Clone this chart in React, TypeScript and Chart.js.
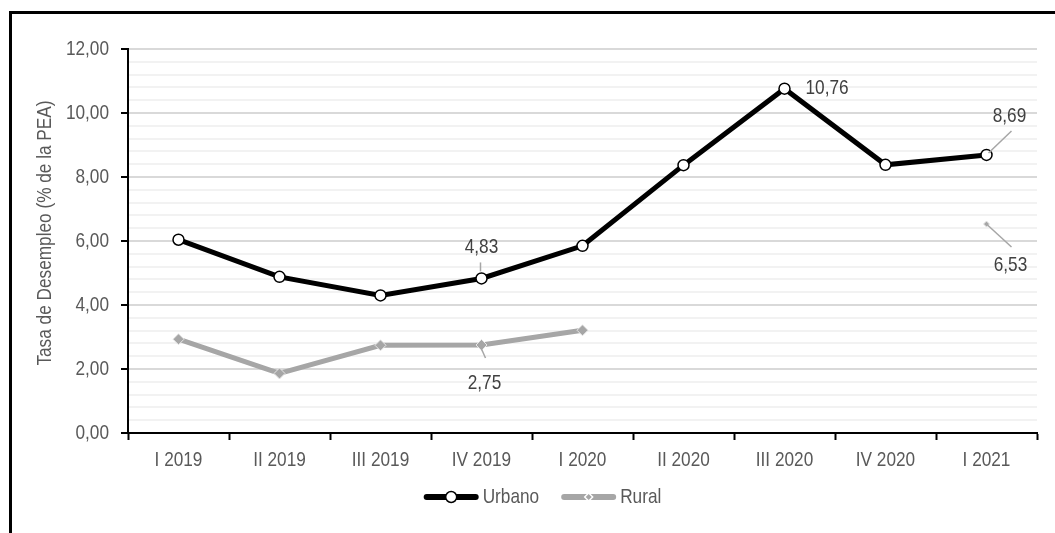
import { useEffect, useRef } from 'react';
import { Chart, registerables } from 'chart.js';

Chart.register(...registerables);

const FONT = '"Liberation Sans", Arial, sans-serif';
const FONT_SIZE = 21;
// Horizontal squeeze that turns the sans face into a narrow one.
const NARROW = 0.82;
const TEXT_COLOR = '#595959';
const LABEL_COLOR = '#404040';

// Quarterly unemployment rate (% of the economically active population)
const quarters = ['I 2019', 'II 2019', 'III 2019', 'IV 2019', 'I 2020', 'II 2020', 'III 2020', 'IV 2020', 'I 2021'];
const urbano = [6.04, 4.88, 4.3, 4.83, 5.85, 8.37, 10.76, 8.38, 8.69];
const rural: (number | null)[] = [2.93, 1.86, 2.74, 2.75, 3.21, null, null, null, 6.53];

const Y_MIN = 0;
const Y_MAX = 12;
const Y_MAJOR = 2;
const Y_MINOR = 0.4;

const fmt = (v: number) => v.toFixed(2).replace('.', ',');
const isMajor = (v: number) => Math.abs(v / Y_MAJOR - Math.round(v / Y_MAJOR)) < 1e-6;

// Value callouts: which point gets a label, where the text sits relative to it,
// and an optional leader line (x1, y1, x2, y2 offsets from the point).
type Callout = {
  dataset: number;
  index: number;
  dx: number;
  dy: number;
  align: CanvasTextAlign;
  leader?: [number, number, number, number];
};
const callouts: Callout[] = [
  { dataset: 0, index: 3, dx: 0, dy: -31, align: 'center', leader: [-1, -7, -1, -16] },
  { dataset: 1, index: 3, dx: 3, dy: 38, align: 'center', leader: [0, 4, 4, 13] },
  { dataset: 0, index: 6, dx: 21, dy: 0, align: 'left' },
  { dataset: 0, index: 8, dx: 23, dy: -39, align: 'center', leader: [2, -2, 25, -24] },
  { dataset: 1, index: 8, dx: 24, dy: 41, align: 'center', leader: [1, 1, 25, 23] },
];

const calloutPlugin = {
  id: 'valueCallouts',
  afterDatasetsDraw(chart: any) {
    const { ctx } = chart;
    ctx.save();
    ctx.font = `${FONT_SIZE}px ${FONT}`;
    ctx.fillStyle = LABEL_COLOR;
    ctx.textBaseline = 'middle';
    for (const c of callouts) {
      const value = chart.data.datasets[c.dataset].data[c.index];
      if (value == null) continue;
      const pt = chart.getDatasetMeta(c.dataset).data[c.index];
      if (c.leader) {
        ctx.strokeStyle = '#a6a6a6';
        ctx.lineWidth = 1.5;
        ctx.beginPath();
        ctx.moveTo(pt.x + c.leader[0], pt.y + c.leader[1]);
        ctx.lineTo(pt.x + c.leader[2], pt.y + c.leader[3]);
        ctx.stroke();
      }
      ctx.textAlign = c.align;
      ctx.fillText(fmt(value), pt.x + c.dx, pt.y + c.dy);
    }
    ctx.restore();
  },
};

// Y-axis title, drawn rotated beside the tick labels.
const axisTitlePlugin = {
  id: 'axisTitle',
  afterDraw(chart: any) {
    const { ctx, chartArea } = chart;
    ctx.save();
    ctx.font = `${FONT_SIZE}px ${FONT}`;
    ctx.fillStyle = TEXT_COLOR;
    ctx.textAlign = 'center';
    ctx.textBaseline = 'middle';
    ctx.translate(45, (chartArea.top + chartArea.bottom) / 2 - 8);
    ctx.rotate(-Math.PI / 2);
    ctx.fillText('Tasa de Desempleo (% de la PEA)', 0, 0);
    ctx.restore();
  },
};

// Legend with a line sample and its marker in the middle.
const lineLegendPlugin = {
  id: 'lineLegend',
  afterDraw(chart: any) {
    const { ctx, chartArea } = chart;
    const y = chartArea.bottom + 64;
    const sample = 55;
    const gap = 4;
    const between = 22;
    ctx.save();
    ctx.font = `${FONT_SIZE}px ${FONT}`;
    const items = chart.data.datasets.map((ds: any) => ({ ds, w: ctx.measureText(ds.label).width }));
    const total =
      items.reduce((s: number, it: any) => s + sample + gap + it.w, 0) + between * (items.length - 1);
    let x = (chartArea.left + chartArea.right) / 2 - 40 - total / 2;
    for (const { ds, w } of items) {
      ctx.strokeStyle = ds.borderColor;
      ctx.lineWidth = ds.borderWidth + 1;
      ctx.lineCap = 'round';
      ctx.beginPath();
      ctx.moveTo(x + 3, y);
      ctx.lineTo(x + sample - 3, y);
      ctx.stroke();
      const cx = x + sample / 2;
      if (ds.pointStyle === 'circle') {
        ctx.beginPath();
        ctx.arc(cx, y, 5.5, 0, Math.PI * 2);
        ctx.fillStyle = '#ffffff';
        ctx.fill();
        ctx.lineWidth = 1.5;
        ctx.strokeStyle = '#000000';
        ctx.stroke();
      } else {
        const r = 5;
        ctx.beginPath();
        ctx.moveTo(cx, y - r);
        ctx.lineTo(cx + r, y);
        ctx.lineTo(cx, y + r);
        ctx.lineTo(cx - r, y);
        ctx.closePath();
        ctx.fillStyle = '#ffffff';
        ctx.fill();
        const r2 = 3;
        ctx.beginPath();
        ctx.moveTo(cx, y - r2);
        ctx.lineTo(cx + r2, y);
        ctx.lineTo(cx, y + r2);
        ctx.lineTo(cx - r2, y);
        ctx.closePath();
        ctx.fillStyle = ds.borderColor;
        ctx.fill();
      }
      ctx.fillStyle = TEXT_COLOR;
      ctx.textAlign = 'left';
      ctx.textBaseline = 'middle';
      ctx.fillText(ds.label, x + sample + gap, y);
      x += sample + gap + w + between;
    }
    ctx.restore();
  },
};

// Draw and measure all text on this context with a horizontal squeeze.
function narrowText(ctx: CanvasRenderingContext2D) {
  const fill = ctx.fillText.bind(ctx);
  const measure = ctx.measureText.bind(ctx);
  (ctx as any).fillText = (text: string, x: number, y: number) => {
    ctx.save();
    ctx.translate(x, y);
    ctx.scale(NARROW, 1);
    fill(text, 0, 0);
    ctx.restore();
  };
  (ctx as any).measureText = (text: string) => {
    const m = measure(text);
    return {
      width: m.width * NARROW,
      actualBoundingBoxAscent: m.actualBoundingBoxAscent,
      actualBoundingBoxDescent: m.actualBoundingBoxDescent,
      actualBoundingBoxLeft: m.actualBoundingBoxLeft * NARROW,
      actualBoundingBoxRight: m.actualBoundingBoxRight * NARROW,
      fontBoundingBoxAscent: m.fontBoundingBoxAscent,
      fontBoundingBoxDescent: m.fontBoundingBoxDescent,
    };
  };
}

export default function App() {
  const canvasRef = useRef<HTMLCanvasElement | null>(null);

  useEffect(() => {
    const canvas = canvasRef.current;
    if (!canvas) return;
    const context = canvas.getContext('2d');
    if (!context) return;
    narrowText(context);
    const tickFont = { family: FONT, size: FONT_SIZE };
    const chart = new Chart(context, {
      type: 'line',
      data: {
        labels: quarters,
        datasets: [
          {
            label: 'Urbano',
            data: urbano,
            borderColor: '#000000',
            borderWidth: 5,
            pointStyle: 'circle',
            pointRadius: 5.5,
            pointBorderWidth: 1.5,
            pointBackgroundColor: '#ffffff',
            pointBorderColor: '#000000',
            tension: 0,
          },
          {
            label: 'Rural',
            data: rural,
            borderColor: '#a6a6a6',
            borderWidth: 5,
            pointStyle: 'rectRot',
            pointRadius: (ctx: any) => {
              const d = ctx.dataset.data;
              const i = ctx.dataIndex;
              const lone = d[i - 1] == null && d[i + 1] == null;
              return lone ? 3 : 5.5;
            },
            pointBorderWidth: 1,
            pointBackgroundColor: '#a6a6a6',
            pointBorderColor: '#e6e6e6',
            spanGaps: false,
            tension: 0,
          },
        ],
      },
      options: {
        responsive: false,
        animation: false,
        layout: { padding: { top: 49, right: 18, left: 0, bottom: 0 } },
        plugins: {
          legend: { display: false },
          tooltip: { enabled: false },
          title: { display: false },
        },
        scales: {
          x: {
            offset: true,
            grid: {
              offset: true,
              drawOnChartArea: false,
              drawTicks: true,
              tickLength: 7,
              tickColor: '#000000',
              tickWidth: 2,
            },
            border: { color: '#000000', width: 2 },
            ticks: {
              color: TEXT_COLOR,
              font: tickFont,
              padding: 8,
              maxRotation: 0,
              autoSkip: false,
            },
            afterFit: (scale: any) => {
              scale.height = 100;
            },
          },
          y: {
            min: Y_MIN,
            max: Y_MAX,
            grid: {
              color: (ctx: any) => (isMajor(ctx.tick.value) ? '#d9d9d9' : '#f2f2f2'),
              lineWidth: 2,
              drawTicks: true,
              tickLength: 7,
              tickColor: (ctx: any) => (isMajor(ctx.tick.value) ? '#000000' : 'rgba(0,0,0,0)'),
              tickWidth: 2,
            },
            border: { color: '#000000', width: 2 },
            ticks: {
              stepSize: Y_MINOR,
              autoSkip: false,
              color: TEXT_COLOR,
              font: tickFont,
              padding: 12,
              callback: (v: any) => (isMajor(Number(v)) ? fmt(Number(v)) : ''),
            },
            afterFit: (scale: any) => {
              scale.width = 128;
            },
          },
        },
      },
      plugins: [calloutPlugin, axisTitlePlugin, lineLegendPlugin],
    } as any);
    return () => chart.destroy();
  }, []);

  return (
    <div
      style={{
        position: 'fixed',
        left: 0,
        top: 0,
        width: 1055,
        height: 533,
        overflow: 'hidden',
        background: '#ffffff',
      }}
    >
      <div
        style={{
          position: 'absolute',
          left: 9,
          top: 11,
          width: 1200,
          height: 700,
          border: '3px solid #000000',
          boxSizing: 'border-box',
        }}
      />
      <canvas
        ref={canvasRef}
        width={1055}
        height={533}
        style={{ position: 'absolute', left: 0, top: 0 }}
      />
    </div>
  );
}
